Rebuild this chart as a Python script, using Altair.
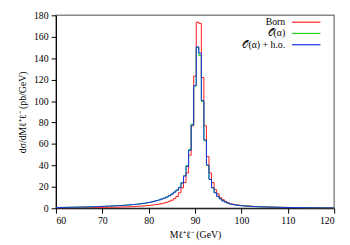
import altair as alt
import pandas as pd

# bin edges: 0.55 GeV wide starting at 60 GeV
bin_start = 60.0
bin_width = 0.55

born = [0.3,0.3,0.35,0.35,0.4,0.4,0.45,0.45,0.5,0.5,0.55,
        0.55,0.6,0.6,0.65,0.7,0.7,0.75,0.8,0.85,0.9,
        0.95,1.0,1.05,1.1,1.15,1.25,1.3,1.4,1.5,1.6,
        1.7,1.85,2.0,2.2,2.4,2.6,2.9,3.2,3.5,3.9,
        4.3,4.9,5.6,6.5,
        7.5,9.0,11.0,14.5,19.0,24.0,33.0,49.5,77.0,
        123.3,173.6,172.5,122.0,77.0,48.3,33.0,24.0,
        17.4,13.5,10.0,8.0,6.5,5.2,4.4,3.8,3.3,
        3.0,2.7,2.5,2.3,2.1,1.95,1.8,1.65,1.55,1.45,
        1.35,1.25,1.2,1.1,1.05,1.0,0.95,0.9,0.85,0.8,
        0.77,0.74,0.7,0.67,0.64,0.6,0.58,0.55,0.53,0.5,
        0.48,0.46,0.44,0.42,0.4,0.38,0.36,0.35]

nlo = [0.7,0.75,0.8,0.85,0.9,0.95,1.0,1.05,1.1,1.15,1.2,
       1.25,1.3,1.4,1.45,1.5,1.6,1.7,1.8,1.9,2.0,
       2.1,2.2,2.3,2.45,2.6,2.75,2.9,3.1,3.3,3.5,
       3.7,4.0,4.3,4.6,5.0,5.4,5.9,6.5,7.1,7.8,
       8.6,9.5,10.5,11.8,
       13.3,15.2,17.0,19.5,24.0,30.5,40.0,55.0,78.5,
       114.0,150.0,142.5,99.5,63.0,40.0,27.0,19.1,
       14.5,11.2,8.8,7.0,5.8,4.8,4.0,3.5,3.1,
       2.8,2.5,2.3,2.1,1.95,1.8,1.65,1.55,1.45,1.35,
       1.27,1.2,1.13,1.07,1.0,0.95,0.9,0.85,0.8,0.77,
       0.74,0.7,0.67,0.64,0.61,0.58,0.56,0.53,0.51,0.49,
       0.47,0.45,0.43,0.41,0.39,0.37,0.35,0.34]

ho = [0.7,0.75,0.8,0.85,0.9,0.95,1.0,1.05,1.1,1.15,1.2,
      1.25,1.3,1.4,1.45,1.5,1.6,1.7,1.8,1.9,2.0,
      2.1,2.2,2.3,2.45,2.6,2.75,2.9,3.1,3.3,3.5,
      3.7,4.0,4.3,4.6,5.0,5.4,5.9,6.5,7.1,7.8,
      8.6,9.5,10.5,11.7,
      13.2,15.0,16.8,19.2,23.5,30.0,39.0,54.0,77.5,
      114.4,150.6,144.7,100.6,63.8,40.3,27.0,19.1,
      14.5,11.2,8.8,7.0,5.8,4.8,4.0,3.5,3.1,
      2.8,2.5,2.3,2.1,1.95,1.8,1.65,1.55,1.45,1.35,
      1.27,1.2,1.13,1.07,1.0,0.95,0.9,0.85,0.8,0.77,
      0.74,0.7,0.67,0.64,0.61,0.58,0.56,0.53,0.51,0.49,
      0.47,0.45,0.43,0.41,0.39,0.37,0.35,0.34]

series_names = ["Born", "𝒪(α)", "𝒪(α) + h.o."]
series_colors = ["#ff1a1a", "#1ad21a", "#1a2ee6"]
series_values = [born, nlo, ho]

rows = []
for k, (name, vals) in enumerate(zip(series_names, series_values)):
    n = len(vals)
    for i, v in enumerate(vals):
        rows.append({"series": name, "order": k, "x": bin_start + i * bin_width, "y": v})
    rows.append({"series": name, "order": k, "x": bin_start + n * bin_width, "y": vals[-1]})
df = pd.DataFrame(rows)

SERIF = "Liberation Serif"

xscale = alt.Scale(domain=[60, 120], nice=False, zero=False)
yscale = alt.Scale(domain=[0, 180], nice=False)
color_scale = alt.Scale(domain=series_names, range=series_colors)

lines = alt.Chart(df).mark_line(interpolate="step-after", strokeWidth=1, clip=True).encode(
    x=alt.X("x:Q", scale=xscale,
            axis=alt.Axis(title="Mℓ⁺ℓ⁻ (GeV)", values=[60, 70, 80, 90, 100, 110, 120],
                          grid=False, tickSize=5, labelPadding=3, titlePadding=4)),
    y=alt.Y("y:Q", scale=yscale,
            axis=alt.Axis(title="dσ/dMℓ⁺ℓ⁻ (pb/GeV)", values=list(range(0, 181, 20)),
                          grid=False, tickSize=5, labelPadding=3, titlePadding=6)),
    color=alt.Color("series:N", scale=color_scale, legend=None),
    detail="series:N",
    order=alt.Order("order:Q"),
)

# legend built from the series lists
legend_layers = []
row_y = [7, 18.5, 30]
for name, col, yy in zip(series_names, series_colors, row_y):
    legend_layers.append(
        alt.Chart(pd.DataFrame({"label": [name]})).mark_text(
            align="right", baseline="middle", font=SERIF, fontSize=10, color="black"
        ).encode(x=alt.value(234), y=alt.value(yy), text="label:N")
    )
    legend_layers.append(
        alt.Chart(pd.DataFrame({"label": [name]})).mark_rule(strokeWidth=1.2, color=col).encode(
            x=alt.value(241), x2=alt.value(270), y=alt.value(yy)
        )
    )

chart = alt.layer(lines, *legend_layers).properties(
    width=284, height=197,
    autosize="none",
    padding={"left": 49, "top": 5, "right": 8, "bottom": 35},
).configure_view(
    stroke="#888888", strokeWidth=1.5
).configure_axis(
    domainColor="black", tickColor="black", labelColor="black", titleColor="black",
    labelFont=SERIF, titleFont=SERIF, labelFontSize=10, titleFontSize=10,
    titleFontWeight="normal", domainWidth=1,
)

chart.save("out.html", embed_options={"renderer": "svg", "actions": False})
